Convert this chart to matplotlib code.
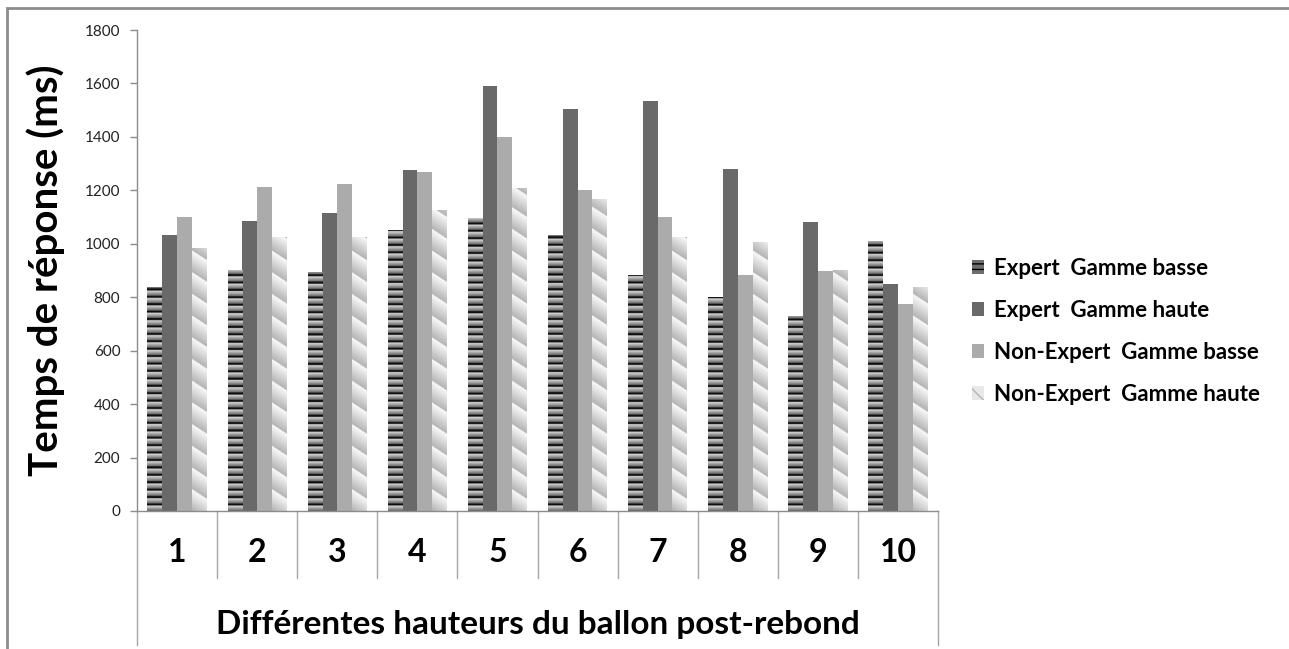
import numpy as np
import matplotlib
matplotlib.use("Agg")
import matplotlib.pyplot as plt
from matplotlib.patches import Patch, Rectangle
from matplotlib.transforms import blended_transform_factory

plt.rcParams['font.family'] = ['Lato', 'DejaVu Sans']

categories = ['1', '2', '3', '4', '5', '6', '7', '8', '9', '10']
series_names = ['Expert  Gamme basse', 'Expert  Gamme haute',
                'Non-Expert  Gamme basse', 'Non-Expert  Gamme haute']
expert_basse = [839, 901, 894, 1052, 1096, 1033, 882, 800, 729, 1009]
expert_haute = [1033, 1085, 1116, 1277, 1592, 1504, 1534, 1281, 1082, 851]
nonexpert_basse = [1101, 1211, 1225, 1267, 1400, 1200, 1099, 882, 899, 774]
nonexpert_haute = [983, 1025, 1025, 1126, 1208, 1168, 1025, 1006, 903, 837]
yticks = [0, 200, 400, 600, 800, 1000, 1200, 1400, 1600, 1800]

W, H = 1289, 649
fig = plt.figure(figsize=(W / 100, H / 100), dpi=100)
ax = fig.add_axes([137 / W, 138 / H, 801 / W, 481 / H])

# frame around the whole chart
fig.patches.append(Rectangle((7 / W, -0.2), 1.3, 1.2 - 8 / H,
                             transform=fig.transFigure, fill=False,
                             edgecolor='#8c8c8c', linewidth=2))

x = np.arange(len(categories))
w = 0.185
px_per_x = 801 / 10.0
px_per_y = 481 / 1800.0


def stripe_fill(bar):
    # horizontal dark bands fading to light grey
    x0, h, bw = bar.get_x(), bar.get_height(), bar.get_width()
    ny = max(int(h * px_per_y * 4), 2)
    yy = np.linspace(0, h, ny)
    py = yy * px_per_y
    P = 7.4
    d = (P - (py % P)) / P
    v = np.where(d < 0.28, 0.06, 0.88 - (d - 0.28) / 0.72 * 0.5)
    img = np.tile(v[:, None], (1, 8))
    return img, [x0, x0 + bw, 0, h]


def diag_fill(bar):
    # diagonal bands with a white-to-grey gradient
    x0, h, bw = bar.get_x(), bar.get_height(), bar.get_width()
    ny = max(int(h * px_per_y * 4), 2)
    nx = 60
    xx = np.linspace(0, bw * px_per_x, nx)
    yy = np.linspace(0, h * px_per_y, ny)
    X, Y = np.meshgrid(xx, yy)
    P = 21.7
    u = ((Y + 0.65 * X) % P) / P
    v = 0.70 + 0.28 * u
    return v, [x0, x0 + bw, 0, h]


b1 = ax.bar(x - 1.5 * w, expert_basse, w, color='#7a7a7a', linewidth=0)
b2 = ax.bar(x - 0.5 * w, expert_haute, w, color='#696969', linewidth=0)
b3 = ax.bar(x + 0.5 * w, nonexpert_basse, w, color='#ababab', linewidth=0)
b4 = ax.bar(x + 1.5 * w, nonexpert_haute, w, color='#d0d0d0', linewidth=0)

for bars, fill in [(b1, stripe_fill), (b4, diag_fill)]:
    for bar in bars:
        img, ext = fill(bar)
        im = ax.imshow(img, extent=ext, origin='lower', cmap='gray',
                       vmin=0, vmax=1, aspect='auto',
                       interpolation='bilinear', zorder=2)
        im.set_clip_path(bar)

ax.set_xlim(-0.5, 9.5)
ax.set_ylim(0, 1800)
ax.set_yticks(yticks)
ax.set_yticklabels([str(t) for t in yticks], fontsize=11, color='#222222')
ax.tick_params(axis='y', length=5, width=1, color='#8c8c8c', pad=7)
ax.tick_params(axis='x', length=0, labelbottom=False)
for s in ['top', 'right']:
    ax.spines[s].set_visible(False)
for s in ['left', 'bottom']:
    ax.spines[s].set_color('#8c8c8c')
    ax.spines[s].set_linewidth(1)

# category table below the axis
tr = blended_transform_factory(ax.transData, ax.transAxes)
bounds = np.arange(len(categories) + 1) - 0.5
for i, b in enumerate(bounds):
    y_end = -0.278 if i in (0, len(bounds) - 1) else -0.139
    ax.plot([b, b], [0, y_end], transform=tr, clip_on=False,
            color='#a6a6a6', linewidth=1)
for xi, lab in zip(x, categories):
    ax.text(xi, -0.087, lab, transform=tr, ha='center', va='center',
            fontsize=23, fontweight='bold')
ax.text(4.5, -0.237, 'Différentes hauteurs du ballon post-rebond',
        transform=tr, ha='center', va='center', fontsize=24,
        fontweight='bold')

ax.set_ylabel('Temps de réponse (ms)', fontsize=29, fontweight='bold')
ax.yaxis.set_label_coords(-0.09, 0.5)

handles = [
    Patch(facecolor='#6e6e6e', edgecolor='black', hatch='---', linewidth=0),
    Patch(facecolor='#696969', linewidth=0),
    Patch(facecolor='#ababab', linewidth=0),
    Patch(facecolor='#e8e8e8', edgecolor='#b5b5b5', hatch='\\\\', linewidth=0),
]
fig.legend(handles, series_names, loc='center left',
           bbox_to_anchor=(952 / W, 1 - 331.5 / H), frameon=False,
           prop={'weight': 'bold', 'size': 16}, handlelength=0.55,
           handleheight=0.6, handletextpad=0.45, labelspacing=0.95)

fig.savefig('out.png', dpi=100)
